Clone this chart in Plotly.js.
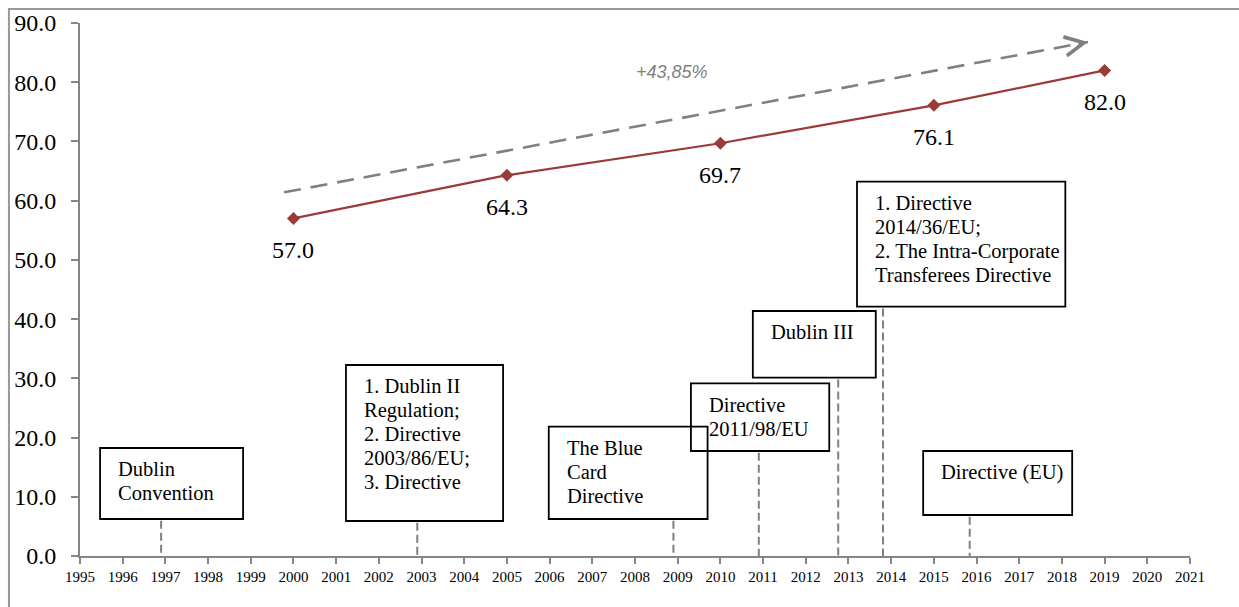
<!DOCTYPE html>
<html>
<head>
<meta charset="utf-8">
<script src="https://cdn.plot.ly/plotly-3.0.1.min.js"></script>
<style>html,body{margin:0;padding:0;background:#fff;}#chart{width:1239px;height:607px;}</style>
</head>
<body>
<div id="chart"></div>
<script>
// ---- data ----
var years = [2000, 2005, 2010, 2015, 2019];
var values = [57.0, 64.3, 69.7, 76.1, 82.0];
var xTickYears = [1995,1996,1997,1998,1999,2000,2001,2002,2003,2004,2005,2006,2007,2008,2009,2010,2011,2012,2013,2014,2015,2016,2017,2018,2019,2020,2021];
var yTickVals = [0,10,20,30,40,50,60,70,80,90];
var growthLabel = "+43,85%";
var eventX = [1996.9, 2002.9, 2008.9, 2010.9, 2012.76, 2013.81, 2015.84];
var eventLines = [
  ["Dublin", "Convention"],
  ["1. Dublin II", "Regulation;", "2. Directive", "2003/86/EU;", "3. Directive"],
  ["The Blue", "Card", "Directive"],
  ["Directive", "2011/98/EU"],
  ["Dublin III"],
  ["1. Directive", "2014/36/EU;", "2. The Intra-Corporate", "Transferees Directive"],
  ["Directive (EU)"]
];

// ---- layout geometry (not data) ----
var boxes = [ // [x0, x1, yBottom, yTop] in axis units
  [1995.47, 1998.82, 6.25, 18.24],
  [2001.23, 2004.91, 5.91, 32.25],
  [2005.98, 2009.70, 6.25, 21.83],
  [2009.31, 2012.55, 17.73, 29.16],
  [2010.76, 2013.64, 30.11, 41.37],
  [2013.20, 2018.08, 42.10, 63.21],
  [2014.75, 2018.24, 6.92, 17.73]
];
var trendArrow = {x0: 1999.78, y0: 61.41, x1: 2018.61, y1: 86.79};
var growthPos = {x: 2008.87, y: 81.7};

var serif = "Liberation Serif, Times New Roman, serif";
var lineColor = "#9B3A36";
var axisGray = "#868686";

var traces = [{
  type: "scatter",
  mode: "lines+markers",
  x: years,
  y: values,
  line: {color: lineColor, width: 2.2},
  marker: {symbol: "diamond", size: 10, color: lineColor},
  hoverinfo: "skip"
}];

var shapes = [];
var annotations = [];

// outer frame (left and top)
shapes.push({type: "path", xref: "paper", yref: "paper",
  path: "M -0.0640,-0.12 L -0.0640,1.0263 L 1.06,1.0263",
  line: {color: "#999999", width: 2}});

// trend arrow (dashed)
shapes.push({type: "line", xref: "x", yref: "y",
  x0: trendArrow.x0, y0: trendArrow.y0, x1: trendArrow.x1, y1: trendArrow.y1,
  line: {color: "#808080", width: 2.6, dash: "17px,10px"}});
var fx = trendArrow.x1 - (trendArrow.x1 - trendArrow.x0) * 0.012;
var fy = trendArrow.y1 - (trendArrow.y1 - trendArrow.y0) * 0.012;
annotations.push({x: trendArrow.x1, y: trendArrow.y1, xref: "x", yref: "y",
  ax: fx, ay: fy, axref: "x", ayref: "y", text: "", showarrow: true,
  arrowhead: 5, arrowsize: 1.5, arrowwidth: 2.5, arrowcolor: "#808080", standoff: 0});

annotations.push({x: growthPos.x, y: growthPos.y, xref: "x", yref: "y", text: growthLabel,
  showarrow: false, font: {family: "Liberation Sans, Arial, sans-serif", size: 18, color: "#808080", style: "italic"}});

// data labels
for (var i = 0; i < years.length; i++) {
  annotations.push({x: years[i], y: values[i], xref: "x", yref: "y", text: values[i].toFixed(1),
    showarrow: false, yshift: -32, font: {family: serif, size: 24, color: "#000"}});
}

// event boxes
for (var k = 0; k < boxes.length; k++) {
  var b = boxes[k];
  shapes.push({type: "rect", xref: "x", yref: "y", x0: b[0], x1: b[1], y0: b[2], y1: b[3],
    line: {color: "#000", width: 1.8}, fillcolor: "rgba(0,0,0,0)"});
  shapes.push({type: "line", xref: "x", yref: "y", x0: eventX[k], x1: eventX[k], y0: b[2] - 0.3, y1: 0,
    line: {color: "#808080", width: 2, dash: "8px,4px"}});
  for (var j = 0; j < eventLines[k].length; j++) {
    annotations.push({x: b[0], y: b[3], xref: "x", yref: "y", xanchor: "left", yanchor: "top",
      xshift: 18, yshift: -10.3 - 24 * j, text: eventLines[k][j], showarrow: false,
      borderwidth: 0, borderpad: 0, align: "left",
      font: {family: serif, size: 20.5, color: "#000"}});
  }
}

var layout = {
  width: 1239, height: 607,
  margin: {l: 80, r: 49, t: 23, b: 51},
  paper_bgcolor: "#fff", plot_bgcolor: "#fff",
  showlegend: false,
  xaxis: {range: [1995, 2021], tickvals: xTickYears, ticktext: xTickYears.map(String),
    showgrid: false, zeroline: false, showline: true, linecolor: axisGray, linewidth: 2,
    ticks: "outside", ticklen: 6, tickwidth: 2, tickcolor: axisGray,
    tickfont: {family: serif, size: 15, color: "#000"}, tickangle: 0},
  yaxis: {range: [0, 90], tickvals: yTickVals, ticktext: yTickVals.map(function(v){return v.toFixed(1);}),
    showgrid: false, zeroline: false, showline: true, linecolor: axisGray, linewidth: 2,
    ticks: "outside", ticklen: 7, tickwidth: 2, tickcolor: axisGray, ticklabelstandoff: 10,
    tickfont: {family: serif, size: 24, color: "#000"}},
  shapes: shapes,
  annotations: annotations
};

Plotly.newPlot("chart", traces, layout, {displayModeBar: false, staticPlot: true});
</script>
</body>
</html>
